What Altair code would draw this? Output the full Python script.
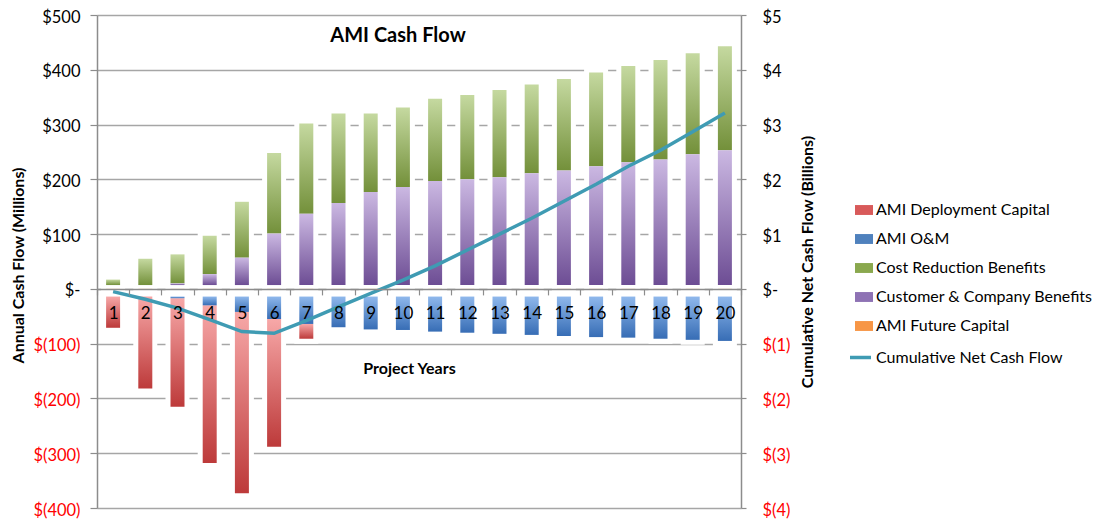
import altair as alt
import pandas as pd

# ---------------- data ----------------
years = list(range(1, 21))
deployment_capital = [-57, -168, -198, -288, -331, -233, -27, 0, 0, 0,
                      0, 0, 0, 0, 0, 0, 0, 0, 0, 0]
om_costs = [0, 0, -3, -16, -28, -41, -50, -56, -60, -61,
            -64, -66, -68, -70, -72, -74, -75, -77, -79, -81]
cost_reduction = [10, 48, 53, 70, 102, 147, 165, 163, 143, 145,
                  150, 154, 159, 162, 167, 171, 176, 182, 184, 190]
customer_benefits = [0, 0, 3, 20, 50, 94, 130, 150, 170, 179,
                     190, 193, 197, 204, 209, 217, 224, 229, 239, 246]
future_capital = [-2, -2, -2, -2, -2, -2, -2, -2, -2, -2,
                  -2, -2, -2, -2, -2, -2, -2, -2, -2, -2]
# blank gap segments visible between the axis and the bars
gap_pos = [7, 7, 7, 7, 7, 7, 7, 7, 7, 7, 7, 7, 7, 7, 7, 7, 7, 7, 7, 7]
gap_neg = [-12, -12, -12, -12, -12, -12, -12, -12, -12, -12,
           -12, -12, -12, -12, -12, -12, -12, -12, -12, -12]
cum_net_billions = [-0.05, -0.19, -0.35, -0.56, -0.78, -0.81, -0.58, -0.33, -0.08, 0.16,
                    0.42, 0.71, 1.00, 1.29, 1.60, 1.91, 2.24, 2.53, 2.87, 3.21]

left_ticks = [-400, -300, -200, -100, 0, 100, 200, 300, 400, 500]
right_ticks = [-4, -3, -2, -1, 0, 1, 2, 3, 4, 5]

chart_title = ["AMI Cash Flow"]
legend_names = ["AMI Deployment Capital", "AMI O&M", "Cost Reduction Benefits",
                "Customer & Company Benefits", "AMI Future Capital"]
legend_colors = ["#d85a5a", "#4f81bd", "#8aa84e", "#8e72b4", "#f79646"]
line_name = "Cumulative Net Cash Flow"
line_color = "#3f9bb3"

series_info = [
    ("AMI Deployment Capital", deployment_capital, 3),
    ("AMI O&M", om_costs, 2),
    ("Cost Reduction Benefits", cost_reduction, 3),
    ("Customer & Company Benefits", customer_benefits, 2),
    ("AMI Future Capital", future_capital, 0),
    ("gap_pos", gap_pos, 1),
    ("gap_neg", gap_neg, 1),
]
rows = []
for name, vals, order in series_info:
    for yr, v in zip(years, vals):
        rows.append({"year": yr, "series": name, "value": v, "order": order})
df = pd.DataFrame(rows)
line_df = pd.DataFrame({"year": years, "cum": cum_net_billions,
                        "name": [line_name] * len(years)})
title_df = pd.DataFrame({"t": chart_title})

FONT = "Lato"
GRAY = "#8c8c8c"


def grad(top, bottom):
    return {"gradient": "linear", "x1": 0, "y1": 0, "x2": 0, "y2": 1,
            "stops": [{"offset": 0, "color": top}, {"offset": 1, "color": bottom}]}


x_enc = alt.X(
    "year:O",
    scale=alt.Scale(paddingInner=0, paddingOuter=0),
    axis=alt.Axis(orient="bottom", offset=-219.1, zindex=1, domainColor=GRAY,
                  domainWidth=1.5, tickColor=GRAY, tickWidth=1.2, tickSize=6,
                  tickBand="extent", labelAngle=0, labelFontSize=17,
                  labelPadding=19, labelBaseline="middle", labelColor="black",
                  title="Project Years", titleFontSize=16, titleFontWeight="bold",
                  titleX=312, titleY=80, titleBaseline="middle", titleAlign="center",
                  grid=False),
)

left_axis = alt.Axis(
    values=left_ticks,
    labelExpr=("datum.value == 0 ? '$-\u00a0' : (datum.value < 0 ? '$(' + format(-datum.value, 'd') + ')'"
               " : '$' + format(datum.value, 'd') + '\u00a0')"),
    labelColor={"condition": {"test": "datum.value < 0", "value": "#ff0000"}, "value": "#000000"},
    labelFontSize=16.5, labelPadding=10, labelOffset=2,
    grid=True, gridColor="#a6a6a6", gridWidth=1.5,
    domainColor=GRAY, domainWidth=1.5, tickColor=GRAY, tickSize=7, tickWidth=1.2,
    title="Annual Cash Flow (Millions)", titleFontSize=16, titleFontWeight="bold",
    titleAngle=270, titleX=-79, titleY=250, titleAlign="center", titleBaseline="middle",
)
y_scale = alt.Scale(domain=[-400, 500], nice=False, zero=False)

base = alt.Chart(df).transform_stack(
    stack="value", groupby=["year"], as_=["y0", "y1"],
    sort=[alt.SortField("order", order="ascending")],
)

halo = base.transform_aggregate(
    lo="min(y1)", hi="max(y1)", groupby=["year"]
).mark_bar(size=14, fill="white", stroke="white", strokeWidth=10).encode(
    x=x_enc,
    y=alt.Y("lo:Q", scale=y_scale, axis=left_axis),
    y2="hi:Q",
)


def seg(name, color):
    return base.transform_filter(alt.datum.series == name).mark_bar(
        size=14, color=color).encode(
        x=x_enc,
        y=alt.Y("y0:Q", scale=y_scale, axis=left_axis),
        y2="y1:Q",
    )


red = seg("AMI Deployment Capital", grad("#f7a8a8", "#bd3a3a"))
blue = seg("AMI O&M", grad("#8fb8ec", "#376db5"))
green = seg("Cost Reduction Benefits", grad("#c5d9a0", "#73903a"))
purple = seg("Customer & Company Benefits", grad("#cbb8e2", "#6d4d94"))
orange = seg("AMI Future Capital", "#f79646")

legend_layer = base.transform_filter(
    alt.FieldOneOfPredicate(field="series", oneOf=legend_names)
).mark_bar(size=14, opacity=0).encode(
    x=x_enc,
    y=alt.Y("y0:Q", scale=y_scale, axis=left_axis),
    y2="y1:Q",
    color=alt.Color(
        "series:N",
        scale=alt.Scale(domain=legend_names, range=legend_colors),
        sort=legend_names,
        legend=alt.Legend(orient="none", legendX=758, legendY=186, title=None,
                          symbolType="M-1,-0.55H1V0.55H-1Z", symbolSize=324,
                          symbolOpacity=1, symbolStrokeWidth=0,
                          labelFontSize=16, labelFont=FONT, labelColor="black",
                          labelOffset=3, rowPadding=12, labelLimit=400),
    ),
)

bars = alt.layer(halo, red, blue, green, purple, orange, legend_layer)

line = alt.Chart(line_df).mark_line(strokeWidth=3.5).encode(
    x=x_enc,
    y=alt.Y(
        "cum:Q",
        scale=alt.Scale(domain=[-4, 5], nice=False, zero=False),
        axis=alt.Axis(
            orient="right", values=right_ticks,
            labelExpr=("datum.value == 0 ? '$-' : (datum.value < 0 ? '$(' + format(-datum.value, 'd') + ')'"
                       " : '$' + format(datum.value, 'd'))"),
            labelColor={"condition": {"test": "datum.value < 0", "value": "#ff0000"}, "value": "#000000"},
            labelFontSize=16.5, labelPadding=16, labelOffset=2, grid=False,
            domainColor=GRAY, domainWidth=1.5, tickColor=GRAY, tickSize=5, tickWidth=1.2,
            title="Cumulative Net Cash Flow (Billions)", titleFontSize=16,
            titleFontWeight="bold", titleAngle=270, titleX=66, titleY=246.5,
            titleAlign="center", titleBaseline="middle",
        ),
    ),
    color=alt.Color(
        "name:N",
        scale=alt.Scale(domain=[line_name], range=[line_color]),
        legend=alt.Legend(orient="none", legendX=751, legendY=330, title=None,
                          symbolType="stroke", symbolSize=441, symbolStrokeWidth=3.5,
                          labelFontSize=16, labelFont=FONT, labelColor="black",
                          labelOffset=3, labelLimit=400),
    ),
)

title_text = alt.Chart(title_df).mark_text(
    fontSize=20, fontWeight="bold", font=FONT, color="black",
    align="center", baseline="middle",
).encode(text="t:N", x=alt.value(301), y=alt.value(21))

chart = alt.layer(bars, line, title_text).resolve_scale(
    y="independent", color="independent"
).properties(
    width=644,
    height=493,
    autosize=alt.AutoSizeParams(type="none"),
    padding={"left": 89, "top": 7, "right": 354, "bottom": 11},
).configure(
    font=FONT,
).configure_view(
    stroke=None,
).configure_axis(
    labelFont=FONT, titleFont=FONT,
)

chart.save("out.html", embed_options={"renderer": "svg", "actions": False})
